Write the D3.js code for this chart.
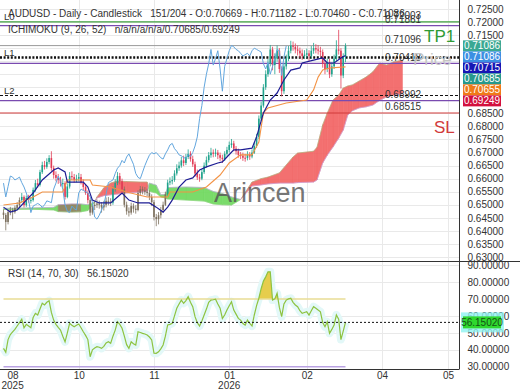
<!DOCTYPE html>
<html><head><meta charset="utf-8">
<script src="https://cdn.jsdelivr.net/npm/d3@7"></script>
<style>
html,body{margin:0;padding:0;background:#fff;}
svg{display:block;font-family:"Liberation Sans",Arial,sans-serif;}
text{white-space:pre;}
</style></head><body>
<svg id="c" width="520" height="390"></svg>
<script>
// ---------------- DATA ----------------
const firstOpen = 0.6470;
const closes = [
0.6461,0.6434,0.6472,0.6480,0.6472,0.6488,0.6499,0.6518,0.6530,0.6499,
0.6526,0.6518,0.6518,0.6557,0.6583,0.6576,0.6625,0.6652,0.6645,0.6664,
0.6679,0.6641,0.6614,0.6603,0.6595,0.6583,0.6583,0.6530,0.6570,0.6610,
0.6606,0.6595,0.6600,0.6606,0.6585,0.6568,0.6545,0.6518,0.6470,0.6495,
0.6500,0.6505,0.6500,0.6490,0.6500,0.6515,0.6512,0.6508,0.6560,0.6583,
0.6610,0.6590,0.6560,0.6500,0.6475,0.6470,0.6495,0.6485,0.6480,0.6545,
0.6560,0.6555,0.6550,0.6545,0.6530,0.6510,0.6453,0.6445,0.6460,0.6480,
0.6500,0.6540,0.6585,0.6590,0.6595,0.6620,0.6640,0.6650,0.6670,0.6660,
0.6683,0.6695,0.6675,0.6655,0.6620,0.6605,0.6600,0.6625,0.6650,0.6671,
0.6690,0.6700,0.6695,0.6700,0.6690,0.6680,0.6675,0.6695,0.6710,0.6729,
0.6735,0.6715,0.6705,0.6691,0.6688,0.6680,0.6679,0.6692,0.6685,0.6700,
0.6725,0.6760,0.6830,0.6880,0.6950,0.7000,0.7040,0.7095,0.7035,0.7060,
0.7090,0.7020,0.6935,0.7030,0.7060,0.7090,0.7110,0.7105,0.7095,0.7090,
0.7080,0.7070,0.7075,0.7080,0.7070,0.7090,0.7100,0.7095,0.7090,0.7085,
0.7040,0.7020,0.7045,0.7000,0.7030,0.7060,0.7095,0.7090,0.6995,0.70669,
0.71086];
const highs = [
0.6482,0.6468,0.6480,0.6492,0.6488,0.6497,0.6510,0.6528,0.6545,0.6536,
0.6535,0.6538,0.6530,0.6566,0.6595,0.6600,0.6634,0.6665,0.6668,0.6678,
0.6690,0.6705,0.6650,0.6628,0.6618,0.6607,0.6600,0.6590,0.6582,0.6625,
0.6628,0.6618,0.6615,0.6622,0.6618,0.6597,0.6580,0.6555,0.6525,0.6505,
0.6512,0.6520,0.6516,0.6510,0.6515,0.6528,0.6530,0.6525,0.6570,0.6598,
0.6625,0.6622,0.6600,0.6570,0.6512,0.6490,0.6508,0.6505,0.6498,0.6555,
0.6572,0.6570,0.6568,0.6562,0.6555,0.6540,0.6518,0.6465,0.6472,0.6492,
0.6512,0.6550,0.6596,0.6605,0.6610,0.6632,0.6655,0.6665,0.6684,0.6688,
0.6695,0.6712,0.6705,0.6688,0.6665,0.6635,0.6618,0.6636,0.6662,0.6685,
0.6702,0.6718,0.6712,0.6715,0.6710,0.6700,0.6692,0.6705,0.6722,0.6742,
0.6752,0.6745,0.6725,0.6715,0.6702,0.6700,0.6695,0.6705,0.6702,0.6712,
0.6738,0.6772,0.6842,0.6895,0.6962,0.7015,0.7058,0.7112,0.7105,0.7080,
0.7110,0.7100,0.7030,0.7042,0.7075,0.7108,0.7128,0.7125,0.7118,0.7110,
0.7102,0.7095,0.7092,0.7098,0.7092,0.7108,0.7120,0.7115,0.7112,0.7105,
0.7095,0.7055,0.7060,0.7058,0.7045,0.7075,0.7130,0.7170,0.7100,0.7080,
0.71182];
const lows = [
0.6445,0.6402,0.6425,0.6460,0.6445,0.6466,0.6480,0.6490,0.6508,0.6490,
0.6492,0.6508,0.6505,0.6512,0.6550,0.6565,0.6570,0.6618,0.6635,0.6638,
0.6655,0.6630,0.6600,0.6590,0.6580,0.6570,0.6565,0.6520,0.6525,0.6562,
0.6595,0.6585,0.6586,0.6590,0.6578,0.6555,0.6538,0.6505,0.6458,0.6462,
0.6480,0.6488,0.6485,0.6470,0.6478,0.6490,0.6498,0.6495,0.6500,0.6550,
0.6575,0.6578,0.6548,0.6490,0.6462,0.6455,0.6462,0.6470,0.6466,0.6475,
0.6535,0.6540,0.6538,0.6532,0.6518,0.6495,0.6440,0.6418,0.6425,0.6448,
0.6470,0.6495,0.6532,0.6575,0.6578,0.6588,0.6612,0.6630,0.6642,0.6648,
0.6652,0.6675,0.6665,0.6645,0.6608,0.6595,0.6588,0.6594,0.6618,0.6642,
0.6662,0.6680,0.6682,0.6684,0.6675,0.6668,0.6660,0.6668,0.6688,0.6700,
0.6718,0.6705,0.6692,0.6680,0.6675,0.6668,0.6665,0.6670,0.6672,0.6678,
0.6695,0.6718,0.6752,0.6820,0.6872,0.6940,0.6990,0.7030,0.7015,0.7000,
0.7048,0.7005,0.6915,0.6925,0.7018,0.7050,0.7080,0.7090,0.7080,0.7072,
0.7062,0.7055,0.7058,0.7062,0.7050,0.7060,0.7078,0.7080,0.7075,0.7068,
0.7025,0.7000,0.7008,0.6985,0.6990,0.7020,0.7050,0.7075,0.6945,0.6985,
0.70460];
// bar ranges where candles are drawn in the neutral (grey) colour
const greyRanges = [[0,7],[38,47],[53,71]];

const rsi = [
40.8,38.5,46,49,50.5,52,54,56,58,53,
55,54,53,59,61.5,60.5,64,67.4,66.4,68,
68.9,62,57.5,55,53.2,51.6,48,44.7,50,55.6,
54.5,53.6,54.5,55.2,53,50.6,48.5,46,35.9,40,
41,41.8,41.5,40.8,42,44,44.7,43.8,48,51.6,
56.5,55,52.7,48,43,40.8,44.7,43.5,42.8,50.6,
50.2,49.7,49.3,48.7,47.5,45.8,38,37.9,38.8,40.5,
42.8,48,54.6,55,55.6,60,64.5,67,69.3,67.4,
69,71.3,68,65.4,59.5,56,54,57,60.5,64,
68,69.3,69.5,69.8,67,64.5,58.5,60.5,63.4,66,
68.3,63.4,61,58.5,57.5,55.5,54.6,57.5,55.5,54,
60.5,66,70.4,76,80.5,83,86,86,69.3,70,
73.3,65,59.5,67,69.3,70,70.4,68,66.4,65.4,
63,61.5,62,62.4,60.5,63,65.4,64.5,63.4,62.4,
56,53.6,56.5,49.7,52,54.6,60.5,58,46,51,
56.15];
const rsiLast = 56.15020;
const rsiLevels = [70, 30];

// Ichimoku lines, read as [bar, price]
const tenkan = [[0,0.6491],[3,0.6472],[6,0.6480],[10,0.6518],[13,0.6545],[17,0.6595],[22,0.6633],[24,0.6641],[27,0.6626],[28,0.6587],[35,0.6587],[37,0.6568],[39,0.6518],[42,0.6507],[47,0.6507],[50,0.6530],[52,0.6545],[55,0.6518],[59,0.6507],[64,0.6507],[67,0.6491],[70,0.6472],[72,0.6491],[74,0.6518],[77,0.6568],[80,0.6595],[83,0.6603],[86,0.6633],[89,0.6645],[94,0.6660],[96,0.6664],[98,0.6683],[101,0.6710],[104,0.6710],[109,0.6717],[111,0.6760],[114,0.6852],[117,0.6901],[120,0.6928],[123,0.6978],[126,0.7016],[130,0.7024],[131,0.7043],[136,0.7054],[140,0.7062],[142,0.7043],[145,0.7043],[148,0.7062],[150,0.70715]];
const kijun = [[0,0.6499],[7,0.6507],[13,0.6530],[17,0.6549],[26,0.6549],[28,0.6595],[38,0.6595],[39,0.6576],[47,0.6568],[54,0.6549],[63,0.6530],[72,0.6530],[73,0.6549],[83,0.6549],[89,0.6568],[95,0.6614],[99,0.6660],[104,0.6691],[109,0.6691],[112,0.6740],[114,0.6852],[116,0.6871],[124,0.6890],[133,0.6901],[136,0.6940],[138,0.6989],[140,0.7016],[143,0.7024],[150,0.7028]];
const chikouShift = 26;
const cloudBars = [0,12,22,24,30,34,37,40,41,44,47,50,54,60,63,64,67,69,71,72,80,88,92,96,100,104,109,113,116,121,127,129,136,137.5,140,142,144.5,147,149,151,153,156,159,162,165,168,171,175];
const spanA = [0.6482,0.6483,0.6480,0.6474,0.6472,0.6473,0.6478,0.6510,0.6530,0.6565,0.6583,0.6591,0.6589,0.6587,0.6587,0.6552,0.6545,0.6530,0.6526,0.6522,0.6518,0.6514,0.6503,0.6500,0.6499,0.6520,0.6587,0.6600,0.6606,0.6622,0.6683,0.6698,0.6705,0.6720,0.6806,0.6851,0.6901,0.6920,0.6947,0.6955,0.6959,0.6974,0.6989,0.7009,0.7043,0.7035,0.7047,0.7054];
const spanB = [0.6486,0.6488,0.6490,0.6500,0.6503,0.6503,0.6500,0.6512,0.6526,0.6535,0.6538,0.6541,0.6545,0.6549,0.6552,0.6583,0.6575,0.6538,0.6540,0.6566,0.6568,0.6566,0.6551,0.6543,0.6530,0.6520,0.6572,0.6576,0.6580,0.6583,0.6583,0.6585,0.6587,0.6595,0.6660,0.6690,0.6721,0.6755,0.6786,0.6844,0.6860,0.6871,0.6875,0.6882,0.6900,0.6913,0.6920,0.6925];
const dimCloud = [24, 34];

// price ticks whose labels stay visible (the others sit under the value tags)
const priceTicks = [0.725,0.72,0.715,0.71,0.705,0.70,0.695,0.69,0.685,0.68,0.675,0.67,0.665,0.66,0.655,0.65,0.645,0.64,0.635,0.63];
const hiddenPriceTickLabels = [0.71,0.705,0.70,0.695,0.69];
const rsiTicks = [90,80,70,60,50,40,30];
const dateTickBars = [4,33,66,99,133,166,195];
const dateTickLabels = ["08","10","11","01","02","04","05"];
const yearLabels = ["2025","","","2026","","",""];

const levelValues = [0.72003,0.71861,0.71096,0.70640,0.70418,0.69185,0.68992,0.68515];
const levelKinds  = ["green","purple","grey","dotted","purple","dashed","purple","red"];
const levelTags   = ["L0","","","L1","","L2","",""];
const axisTagValues = [0.71086,0.71086,0.70715,0.70685,0.70655,0.69249];

const title = "AUDUSD - Daily - Candlestick   151/204 - O:0.70669 - H:0.71182 - L:0.70460 - C:0.71086";
const ichiTitle = "ICHIMOKU (9, 26, 52)   n/a/n/a/n/a/0.70685/0.69249";
const rsiTitle = "RSI (14, 70, 30)   56.15020";

// ---------------- STYLE ----------------
const plotR = 459.5, mainBot = 261, rsiBot = 369;
const levelStyle = {
  green:{stroke:"#3f9f3f",w:1.2,dash:null},
  purple:{stroke:"#7a4bb0",w:1.2,dash:null},
  grey:{stroke:"#9a9a9a",w:1,dash:null},
  dotted:{stroke:"#111",w:2.4,dash:"2,1.6"},
  dashed:{stroke:"#111",w:1,dash:"3,2"},
  red:{stroke:"#d23b3b",w:1.2,dash:null}
};
const tagColors = ["#3aa893","#3c8fe3","#1616b4","#27998c","#f07a18","#d3103e"];
const fmt5 = d3.format(".5f");

const svg = d3.select("#c");
const x = d3.scaleLinear().domain([0,150]).range([3.5,345.5]);
const y = d3.scaleLinear().domain([0.63,0.72]).range([257,22]);
const yr = d3.scaleLinear().domain([30,90]).range([366.7,265]);

const defs = svg.append("defs");
defs.append("clipPath").attr("id","cm").append("rect").attr("x",0).attr("y",0).attr("width",plotR).attr("height",mainBot);
defs.append("clipPath").attr("id","cr").append("rect").attr("x",0).attr("y",mainBot).attr("width",plotR).attr("height",rsiBot-mainBot);
defs.append("clipPath").attr("id","c70").append("rect").attr("x",0).attr("y",mainBot).attr("width",plotR).attr("height",yr(70)-mainBot);

// grid
const grid = svg.append("g");
grid.selectAll("line.h").data(priceTicks).join("line")
  .attr("x1",0).attr("x2",plotR).attr("y1",d=>Math.round(y(d))+0.5).attr("y2",d=>Math.round(y(d))+0.5)
  .attr("stroke","#e9e9e9");
grid.selectAll("line.r").data([40,50,60,80,90]).join("line")
  .attr("x1",0).attr("x2",plotR).attr("y1",d=>Math.round(yr(d))+0.5).attr("y2",d=>Math.round(yr(d))+0.5)
  .attr("stroke","#e9e9e9");
grid.selectAll("line.v").data(dateTickBars.slice(1)).join("line")
  .attr("x1",d=>Math.round(x(d))+0.5).attr("x2",d=>Math.round(x(d))+0.5).attr("y1",0).attr("y2",rsiBot)
  .attr("stroke","#e9e9e9");

const gm = svg.append("g").attr("clip-path","url(#cm)");

// cloud
const colRed = "#f26464", colGreen = "#6fd95e", colDim = "#8c8258";
function pushPoly(pts, d, b0, b1){
  let col = d >= 0 ? colRed : colGreen;
  if (b0 >= dimCloud[0] && b1 <= dimCloud[1]) col = colDim;
  gm.append("path").attr("d", d3.line()(pts.map(p=>[x(p[0]),y(p[1])]))+"Z")
    .attr("fill",col).attr("stroke",col).attr("stroke-width",0.5).attr("opacity",0.92);
}
for (let k=0;k<cloudBars.length-1;k++){
  const b0=cloudBars[k], b1=cloudBars[k+1];
  const a0=spanA[k], a1=spanA[k+1], s0=spanB[k], s1=spanB[k+1];
  const d0=a0-s0, d1=a1-s1;
  if (d0*d1<0){
    const t=d0/(d0-d1), bm=b0+t*(b1-b0), vm=a0+t*(a1-a0);
    pushPoly([[b0,a0],[bm,vm],[b0,s0]], d0, b0, bm);
    pushPoly([[bm,vm],[b1,a1],[b1,s1]], d1, bm, b1);
  } else {
    pushPoly([[b0,a0],[b1,a1],[b1,s1],[b0,s0]], d0!==0?d0:d1, b0, b1);
  }
}
const spanLine = d3.line().x((d,i)=>x(cloudBars[i])).y(d=>y(d));
gm.append("path").attr("d",spanLine(spanA)).attr("fill","none").attr("stroke","#8fcf7f").attr("stroke-width",0.8).attr("opacity",0.6);
gm.append("path").attr("d",spanLine(spanB)).attr("fill","none").attr("stroke","#c4a6e6").attr("stroke-width",0.8).attr("opacity",0.8);

// levels
levelValues.forEach((v,i)=>{
  const st = levelStyle[levelKinds[i]];
  const yy = y(v);
  gm.append("line").attr("x1",0).attr("x2",plotR).attr("y1",yy).attr("y2",yy)
    .attr("stroke",st.stroke).attr("stroke-width",st.w).attr("stroke-dasharray",st.dash);
  if (levelKinds[i]!=="dotted" && levelKinds[i]!=="dashed"){
    svg.append("text").attr("x",385).attr("y",yy-2.5).attr("font-size",10).attr("fill","#333").text(fmt5(v));
  }
  if (levelTags[i]) svg.append("text").attr("x",4).attr("y",yy-1.5).attr("font-size",9.5).attr("fill","#333").text(levelTags[i]);
});

// candles
const candles = closes.map((c,i)=>({i, o: i===0?firstOpen:closes[i-1], c, h:highs[i], l:lows[i],
  grey: greyRanges.some(r=>i>=r[0]&&i<=r[1])}));
const cc = d=> d.grey ? "#7d715f" : (d.c>=d.o ? "#1fa28c" : "#e13c56");
const gc = gm.append("g");
gc.selectAll("line").data(candles).join("line")
  .attr("x1",d=>x(d.i)).attr("x2",d=>x(d.i)).attr("y1",d=>y(d.h)).attr("y2",d=>y(d.l))
  .attr("stroke",cc).attr("stroke-width",0.8);
gc.selectAll("rect").data(candles).join("rect")
  .attr("x",d=>x(d.i)-0.8).attr("width",1.6)
  .attr("y",d=>y(Math.max(d.o,d.c))).attr("height",d=>Math.max(1,Math.abs(y(d.o)-y(d.c))))
  .attr("fill",cc);

// chikou, kijun, tenkan
const chikou = closes.slice(chikouShift).map((c,k)=>[k,c]);
const pl = d3.line().x(d=>x(d[0])).y(d=>y(d[1]));
gm.append("path").attr("d",pl(chikou)).attr("fill","none").attr("stroke","#62a6de").attr("stroke-width",1);
gm.append("path").attr("d",pl(kijun)).attr("fill","none").attr("stroke","#f39345").attr("stroke-width",1.1);
gm.append("path").attr("d",pl(tenkan)).attr("fill","none").attr("stroke","#1d1d94").attr("stroke-width",1.2);

// watermark texts
svg.append("text").attr("x",214).attr("y",202).attr("font-size",27).attr("fill","#555").attr("opacity",0.8).text("Arincen");
svg.append("text").attr("x",413).attr("y",65).attr("font-size",17).attr("fill","#c4c4c4").text("Price");
svg.append("text").attr("x",424).attr("y",42).attr("font-size",17).attr("fill","#2f9a34").text("TP1");
svg.append("text").attr("x",434).attr("y",133).attr("font-size",17).attr("fill","#d23b3b").text("SL");

// RSI
const gr = svg.append("g").attr("clip-path","url(#cr)");
const rl = d3.line().x((d,i)=>x(i)).y(d=>yr(d));
gr.append("path").attr("d",rl(rsi)).attr("fill","none").attr("stroke","#e3f8f8").attr("stroke-width",8).attr("stroke-linejoin","round");
gr.append("path").attr("d", d3.area().x((d,i)=>x(i)).y0(yr(70)).y1(d=>yr(d))(rsi))
  .attr("fill","#e6cd4c").attr("clip-path","url(#c70)");
gr.append("line").attr("x1",x(0)).attr("x2",x(150)).attr("y1",yr(rsiLevels[0])).attr("y2",yr(rsiLevels[0])).attr("stroke","#e8dd94").attr("stroke-width",1.5);
gr.append("line").attr("x1",x(0)).attr("x2",x(150)).attr("y1",yr(rsiLevels[1])).attr("y2",yr(rsiLevels[1])).attr("stroke","#b9a2e2").attr("stroke-width",1.5);
gr.append("path").attr("d",rl(rsi)).attr("fill","none").attr("stroke","#8dc340").attr("stroke-width",1.2);
gr.append("line").attr("x1",0).attr("x2",plotR).attr("y1",yr(rsiLast)).attr("y2",yr(rsiLast)).attr("stroke","#111").attr("stroke-dasharray","2,2");

// frame
svg.append("line").attr("x1",0).attr("x2",520).attr("y1",mainBot+0.5).attr("y2",mainBot+0.5).attr("stroke","#333");
svg.append("line").attr("x1",plotR).attr("x2",plotR).attr("y1",0).attr("y2",rsiBot).attr("stroke","#333");
svg.append("line").attr("x1",0).attr("x2",plotR).attr("y1",rsiBot+0.5).attr("y2",rsiBot+0.5).attr("stroke","#333");

// axes
function styleAxis(g){ g.select(".domain").remove(); g.selectAll("line").remove();
  g.attr("font-family",null).attr("font-size",null);
  g.selectAll("text").attr("font-size",10).attr("fill","#333"); }
svg.append("g").attr("transform",`translate(${plotR},0)`)
  .call(d3.axisRight(y).tickValues(priceTicks.filter(v=>!hiddenPriceTickLabels.includes(v))).tickFormat(fmt5).tickSize(0).tickPadding(8)).call(styleAxis);
svg.append("g").attr("transform",`translate(${plotR},0)`)
  .call(d3.axisRight(yr).tickValues(rsiTicks).tickFormat(d3.format(".5f")).tickSize(0).tickPadding(8)).call(styleAxis);
svg.append("g").attr("transform",`translate(0,${rsiBot})`)
  .call(d3.axisBottom(x).tickValues(dateTickBars).tickFormat((d,i)=>dateTickLabels[i]).tickSize(0).tickPadding(3)).call(styleAxis);
svg.selectAll("text.yr").data(yearLabels).join("text").attr("class","yr")
  .attr("x",(d,i)=>x(dateTickBars[i])).attr("y",389).attr("text-anchor","middle").attr("font-size",10).attr("fill","#333").text(d=>d);

// right tags
const tagG = svg.append("g");
axisTagValues.forEach((v,i)=>{
  const cy = y(axisTagValues[0]) + i*11;
  tagG.append("rect").attr("x",463).attr("y",cy-5.5).attr("width",38).attr("height",11).attr("fill",tagColors[i]);
  tagG.append("text").attr("x",482).attr("y",cy).attr("dy","0.35em").attr("text-anchor","middle").attr("font-size",10).attr("fill","#fff").text(fmt5(v));
});
const ry = yr(rsiLast);
tagG.append("rect").attr("x",461).attr("y",ry-10).attr("width",43).attr("height",20).attr("fill","#8ef3f0").attr("opacity",0.8);
tagG.append("rect").attr("x",463).attr("y",ry-6).attr("width",38).attr("height",12).attr("fill","#2fd82f");
tagG.append("text").attr("x",482).attr("y",ry).attr("dy","0.35em").attr("text-anchor","middle").attr("font-size",10).attr("fill","#145214").text(fmt5(rsiLast));

// titles
svg.append("text").attr("x",8).attr("y",16.5).attr("font-size",10).attr("fill","#333").text(title);
svg.append("text").attr("x",8).attr("y",32.5).attr("font-size",10).attr("fill","#333").text(ichiTitle);
svg.append("text").attr("x",8).attr("y",276.5).attr("font-size",10).attr("fill","#333").text(rsiTitle);
</script>
</body></html>
